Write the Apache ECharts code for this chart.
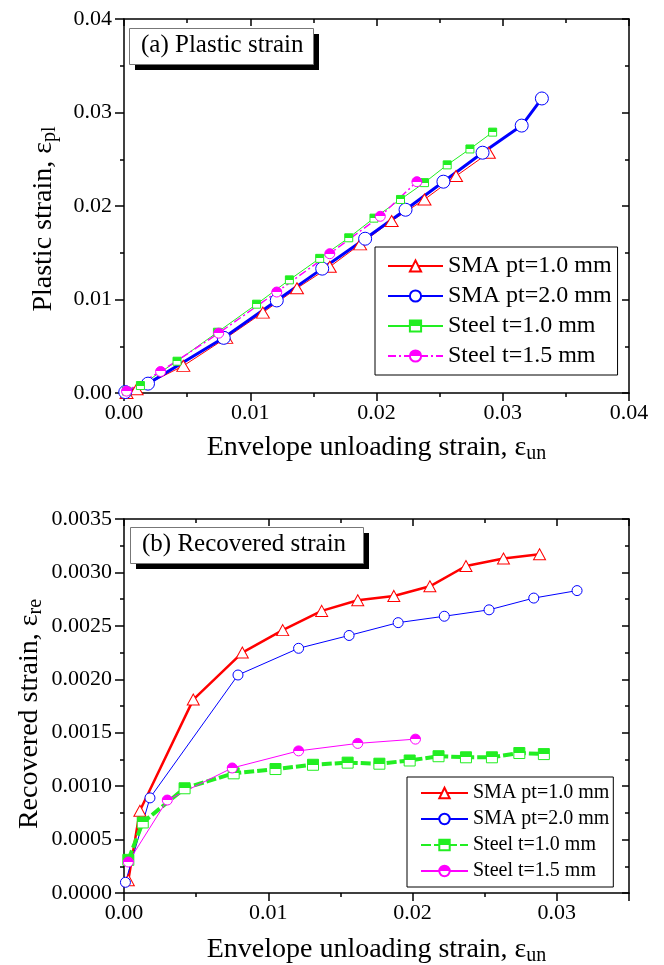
<!DOCTYPE html>
<html>
<head>
<meta charset="utf-8">
<script src="https://cdn.jsdelivr.net/npm/echarts@6/dist/echarts.min.js"></script>
<style>
html, body { margin: 0; padding: 0; background: #fff; }
#main { width: 664px; height: 965px; }
</style>
</head>
<body>
<div id="main"></div>
<script>
var SERIF = '"Liberation Serif", "Times New Roman", serif';
var RED = '#ff0000', BLUE = '#0000ff', GREEN = '#22ee22', MAG = '#ff00ff';

var names = ['SMA pt=1.0 mm', 'SMA pt=2.0 mm', 'Steel t=1.0 mm', 'Steel t=1.5 mm'];

// (a) [envelope unloading strain, plastic strain]
var plSma10 = [[0.0002, 0.0000], [0.0010, 0.0004], [0.0047, 0.0029], [0.0081, 0.0059], [0.0110, 0.0086],
    [0.0137, 0.0112], [0.0163, 0.0135], [0.0187, 0.0159], [0.0212, 0.0184], [0.0238, 0.0207],
    [0.0263, 0.0232], [0.0289, 0.0257]];
var plSma20 = [[0.0001, 0.0001], [0.0019, 0.0010], [0.0079, 0.0059], [0.0121, 0.0099], [0.0157, 0.0133],
    [0.0191, 0.0165], [0.0223, 0.0196], [0.0253, 0.0226], [0.0284, 0.0257], [0.0315, 0.0286],
    [0.0331, 0.0315]];
var plSteel10 = [[0.0002, 0.0002], [0.0013, 0.0008], [0.0042, 0.0034], [0.0074, 0.0065], [0.0105, 0.0095],
    [0.0131, 0.0121], [0.0155, 0.0144], [0.0178, 0.0166], [0.0198, 0.0187], [0.0219, 0.0207],
    [0.0238, 0.0225], [0.0256, 0.0244], [0.0274, 0.0261], [0.0292, 0.0279]];
var plSteel15 = [[0.0002, 0.0002], [0.0029, 0.0023], [0.0075, 0.0064], [0.0121, 0.0108], [0.0163, 0.0149],
    [0.0203, 0.0189], [0.0232, 0.0226]];

// (b) [envelope unloading strain, recovered strain]
var reSma10 = [[0.0003, 0.00012], [0.0011, 0.00077], [0.0048, 0.00181], [0.0082, 0.00225], [0.0110, 0.00246],
    [0.0137, 0.00264], [0.0162, 0.00274], [0.0187, 0.00278], [0.0212, 0.00287], [0.0237, 0.00306],
    [0.0263, 0.00313], [0.0288, 0.00317]];
var reSma20 = [[0.0001, 0.00010], [0.0018, 0.00089], [0.0079, 0.00204], [0.0121, 0.00229], [0.0156, 0.00241],
    [0.0190, 0.00253], [0.0222, 0.00259], [0.0253, 0.00265], [0.0284, 0.00276], [0.0314, 0.00283]];
var reSteel10 = [[0.0003, 0.00031], [0.0013, 0.00066], [0.0042, 0.00098], [0.0076, 0.00112], [0.0105, 0.00116],
    [0.0131, 0.00120], [0.0155, 0.00122], [0.0177, 0.00121], [0.0198, 0.00124], [0.0218, 0.00128],
    [0.0237, 0.00127], [0.0255, 0.00127], [0.0274, 0.00131], [0.0291, 0.00130]];
var reSteel15 = [[0.0003, 0.00029], [0.0030, 0.00087], [0.0075, 0.00117], [0.0121, 0.00133], [0.0162, 0.00140],
    [0.0202, 0.00144]];

function halfFill(c) {
    return {
        type: 'linear', x: 0, y: 0, x2: 0, y2: 1,
        colorStops: [{offset: 0, color: c}, {offset: 0.5, color: c}, {offset: 0.5, color: '#fff'}, {offset: 1, color: '#fff'}]
    };
}

function isStep(v, step) {
    var r = v / step;
    return Math.abs(r - Math.round(r)) < 1e-6;
}

var blackLine = {color: '#000', width: 1.5};
var nameRich = {
    m: {fontFamily: SERIF, fontSize: 28, color: '#000', lineHeight: 32, verticalAlign: 'middle'},
    s: {fontFamily: SERIF, fontSize: 20, color: '#000', lineHeight: 14, verticalAlign: 'bottom'}
};

function xAxes(g, max, name, gap) {
    return [{
        type: 'value', gridIndex: g, position: 'bottom', min: 0, max: max, interval: 0.01,
        axisLine: {onZero: false, lineStyle: blackLine},
        axisTick: {inside: false, length: 8, lineStyle: blackLine},
        minorTick: {show: true, splitNumber: 2, length: 4, lineStyle: blackLine},
        splitLine: {show: false},
        axisLabel: {
            fontFamily: SERIF, fontSize: 22, color: '#000', margin: 9,
            formatter: function (v) { return isStep(v, 0.01) ? v.toFixed(2) : ''; }
        },
        name: name, nameLocation: 'middle', nameGap: gap, nameMoveOverlap: false,
        nameTextStyle: {rich: nameRich}
    }, {
        type: 'value', gridIndex: g, position: 'top', min: 0, max: max, interval: 0.01,
        axisLine: {onZero: false, lineStyle: blackLine},
        axisTick: {inside: true, length: 7, lineStyle: blackLine},
        minorTick: {show: true, splitNumber: 2, length: 4, lineStyle: blackLine},
        splitLine: {show: false},
        axisLabel: {show: false}
    }];
}

function yAxes(g, max, step, digits, name, gap, shift) {
    return [{
        type: 'value', gridIndex: g, position: 'left', min: 0, max: max, interval: step,
        axisLine: {onZero: false, lineStyle: blackLine},
        axisTick: {inside: false, length: 9, lineStyle: blackLine},
        minorTick: {show: true, splitNumber: 2, length: 4, lineStyle: blackLine},
        splitLine: {show: false},
        axisLabel: {
            fontFamily: SERIF, fontSize: 22, color: '#000', margin: 12,
            formatter: function (v) { return v.toFixed(digits); }
        },
        name: name, nameLocation: 'middle', nameGap: gap, nameMoveOverlap: false,
        nameTextStyle: {rich: nameRich, padding: [0, shift, 0, 0]}
    }, {
        type: 'value', gridIndex: g, position: 'right', min: 0, max: max, interval: step,
        axisLine: {onZero: false, lineStyle: blackLine},
        axisTick: {inside: true, length: 7, lineStyle: blackLine},
        minorTick: {show: true, splitNumber: 2, length: 4, lineStyle: blackLine},
        splitLine: {show: false},
        axisLabel: {show: false}
    }];
}

function line(name, g, data, symbol, size, fill, color, width, type) {
    return {
        name: name, type: 'line', xAxisIndex: g * 2, yAxisIndex: g * 2, data: data,
        symbol: symbol, symbolSize: size, showSymbol: true, showAllSymbol: true,
        itemStyle: {color: fill, borderColor: color, borderWidth: 1},
        lineStyle: {color: color, width: width, type: type || 'solid'},
        emphasis: {disabled: true}, animation: false
    };
}

// panel label: shadow block, framed box, text
function panelLabel(text, x, y, w, h) {
    return [
        {type: 'rect', left: x + 6, top: y + 6, z: 10, shape: {width: w, height: h}, style: {fill: '#000'}},
        {type: 'rect', left: x, top: y, z: 11, shape: {width: w, height: h}, style: {fill: '#fff', stroke: '#777', lineWidth: 1}},
        {type: 'text', left: x + 12, top: y + 5, z: 12, style: {text: text, font: '25px ' + SERIF, fill: '#000'}}
    ];
}

var chart = echarts.init(document.getElementById('main'));
chart.setOption({
    backgroundColor: '#fff',
    animation: false,
    graphic: panelLabel('(a) Plastic strain', 129, 28, 184, 36)
        .concat(panelLabel('(b) Recovered strain', 130, 527, 233, 36)),
    grid: [
        {left: 124, top: 19, width: 505, height: 374, outerBoundsMode: 'none'},
        {left: 124, top: 519, width: 505, height: 374, outerBoundsMode: 'none'}
    ],
    legend: [{
        data: names, left: 375, top: 247, orient: 'vertical', itemGap: 6,
        itemWidth: 55, itemHeight: 14, padding: [7, 6, 7, 12],
        borderColor: '#000', borderWidth: 1, backgroundColor: '#fff', selectedMode: false,
        textStyle: {fontFamily: SERIF, fontSize: 24, color: '#000', lineHeight: 24}
    }, {
        data: names.map(function (n) { return n + ' '; }), left: 407, top: 777, orient: 'vertical', itemGap: 6,
        itemWidth: 47, itemHeight: 13, padding: [6, 4, 6, 13],
        borderColor: '#000', borderWidth: 1, backgroundColor: '#fff', selectedMode: false,
        formatter: function (n) { return n.trim(); },
        textStyle: {fontFamily: SERIF, fontSize: 20, color: '#000', lineHeight: 20}
    }],
    xAxis: xAxes(0, 0.04, '{m|Envelope unloading strain, ε}{s|un}', 39)
        .concat(xAxes(1, 0.035, '{m|Envelope unloading strain, ε}{s|un}', 41)),
    yAxis: yAxes(0, 0.04, 0.01, 2, '{m|Plastic strain, ε}{s|pl}', 64, 26)
        .concat(yAxes(1, 0.0035, 0.0005, 4, '{m|Recovered strain, ε}{s|re}', 78, 16)),
    series: [
        line(names[0], 0, plSma10, 'triangle', [13, 11], '#fff', RED, 1),
        line(names[1], 0, plSma20, 'circle', 13, '#fff', BLUE, 3),
        line(names[2], 0, plSteel10, 'rect', 8, halfFill(GREEN), GREEN, 1),
        line(names[3], 0, plSteel15, 'circle', 10, halfFill(MAG), MAG, 1.5, [8, 3, 2, 3]),
        line(names[0] + ' ', 1, reSma10, 'triangle', [12, 11], '#fff', RED, 2.5),
        line(names[1] + ' ', 1, reSma20, 'circle', 10, '#fff', BLUE, 1),
        line(names[2] + ' ', 1, reSteel10, 'rect', 11, halfFill(GREEN), GREEN, 4, [10, 3]),
        line(names[3] + ' ', 1, reSteel15, 'circle', 10, halfFill(MAG), MAG, 1)
    ]
});
</script>
</body>
</html>
